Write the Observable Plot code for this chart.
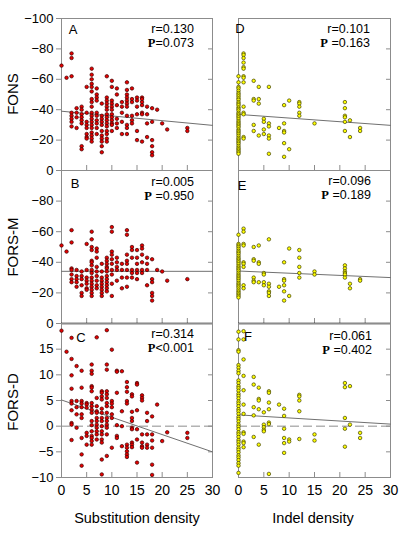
<!DOCTYPE html>
<html><head><meta charset="utf-8">
<script src="https://cdn.jsdelivr.net/npm/d3@7"></script>
<script src="https://cdn.jsdelivr.net/npm/@observablehq/plot@0.6"></script>
<style>
body{margin:0;background:#fff;}
#chart{position:relative;width:411px;height:535px;font-family:"Liberation Sans",Arial,sans-serif;color:#000;overflow:hidden;}
.panel{position:absolute;}
.ylab{position:absolute;font-size:15px;transform:translate(-50%,-50%) rotate(-90deg);white-space:nowrap;}
.xlab{position:absolute;font-size:14.5px;transform:translate(-50%,-50%);white-space:nowrap;}
</style></head><body><div id="chart"></div>
<script>
// ---------- data ----------
const rowLabels = ["FONS", "FORS-M", "FORS-D"];
const colLabels = ["Substitution density", "Indel density"];
const panelLetters = ["A", "B", "C", "D", "E", "F"];
const statR = ["0.130", "0.005", "0.314", "0.101", "0.096", "0.061"];
const statPop = ["=", " =", "<", " =", " =", " ="];
const statP = ["0.073", "0.950", "0.001", "0.163", "0.189", "0.402"];
const fitIntercept = [-39, -34.1, 5.1, -36.9, -34.3, 2.2];
const fitSlope = [0.31, 0.0, -0.337, 0.24, 0.143, -0.06];
const xTicks = [0, 5, 10, 15, 20, 25, 30];
const fonsTicks = [-100, -80, -60, -40, -20, 0];
const forsMTicks = [-80, -60, -40, -20, 0];
const forsDTicks = [-10, -5, 0, 5, 10, 15];

const subX = [0,1,2,3,4,5,6,7,8,9,10,11,12,13,14,15,16,17,18,19,20,21,25];
const fonsSub = [
  [-69],[-61],[-77,-74,-62,-38,-36,-34,-32,-29],[-41,-38,-35,-28],
  [-42,-40,-37,-35,-33,-31,-16,-14],[-55,-38,-32,-30,-28,-24,-22,-21],
  [-67,-63,-60,-57,-55,-52,-47,-45,-42,-38,-36,-34,-32,-30,-28,-25,-23,-21,-19],
  [-54,-50,-48,-46,-38,-36,-33,-31,-28,-24],
  [-44,-36,-34,-32,-30,-26,-23,-21,-19,-16,-12],
  [-62,-48,-46,-44,-42,-40,-37,-35,-33,-31,-29,-26,-24,-21,-19],
  [-59,-55,-46,-44,-42,-40,-37,-35,-33,-31,-30,-26],
  [-54,-50,-43,-34,-31,-28],[-45,-42,-38,-32,-24],
  [-58,-53,-50,-48,-46,-44,-42,-36,-30,-28,-24],
  [-54,-47,-45,-36,-33,-31],[-48,-46,-42,-37,-26,-20],
  [-48,-47,-45,-43,-38,-37,-19],[-42,-37,-31,-22],
  [-41,-32,-20,-16,-12,-10],[-40],[-31],[-27],[-28,-26]
];
const forsMSub = [
  [-51],[-47],[-61,-53,-36,-35,-32,-29,-27],[-35,-31,-29,-27,-24],
  [-34,-31,-29,-25,-20,-18],[-52,-35,-30,-28,-26,-23,-22],
  [-60,-55,-50,-48,-41,-40,-38,-35,-33,-30,-28,-26,-24,-22,-20,-18],
  [-49,-47,-43,-37,-34,-31,-28,-25,-23],
  [-39,-34,-30,-28,-26,-24,-22,-20,-18],
  [-43,-41,-39,-37,-36,-34,-31,-29,-27,-25,-23,-21],
  [-63,-60,-47,-45,-42,-39,-35,-32,-26,-18],
  [-43,-40,-37,-35,-28],[-39,-35,-30,-23],
  [-61,-58,-45,-41,-39,-35,-30,-24],
  [-50,-48,-43,-35,-33,-30],[-48,-43,-39,-35,-33,-29],
  [-51,-49,-45,-40,-35,-33],[-43,-39,-35,-25],
  [-42,-29,-27,-20,-18,-15],[-35],[-34],[-28],[-29]
];
const forsDSub = [
  [18.6],[14.5],[17.2,13.1,9.9,7.3,4.9,4.4,3.1,0.6,0.3,-2.7],[11.7,4.9,3.7,2.3,-0.3],
  [10.8,7.5,4.9,4.4,3.7,2.3,1.6,-2.3,-5.5,-7.7],[4.5,4.2,3.6,-1.3,-1.9,-3.6],
  [12,10.8,10.2,7.8,7.5,6.8,4.5,3.9,3.2,2.6,1,0.2,-1,-1.9,-2.3,-2.9,-3.6],
  [17.3,5.5,3.9,2.9,2.6,1.6,1,0.3,-0.3,-1,-1.6,-2.6],
  [6.8,6.5,5.8,5.2,3.4,2.6,1.6,1,0,-1,-1.6,-2.6,-3.2,-6.5,-9.4],
  [18.7,12,11,6.8,6.2,5.5,4.5,3.9,2.6,1.6,1,0.3,-0.3,-1.6,-5.8],
  [14.9,4.9,4.4,3.7,2.3,1.6,-4.2],[10.8,10.6,6.5,0.2,-1.9,-2.3],[10.7,2.9,0,-3.9],
  [8.6,7.6,6.7,4.9,4.4,-3.6,-4.2,-4.9,-5.5,-6],
  [6.2,5.8,2.8,1.6,1,-0.3,-0.6,-3.2,-3.6,-4.1],[8.4,8.1,3.1,-0.6,-2.6,-7.1],
  [6,5.5,5,-1.6,-3.2,-3.9,-4.2],[2.6,1,-1.6,-3.6,-4.2],
  [1.9,-1.6,-2.8,-4.2,-7.5,-9.5],[4.2],[-2.9],[-1.2],[-1.3,-2.3]
];

const indelX = [0,1,3,4,5,6,8,9,10,12,15,21,22,24];
const fonsIndel = [
  [-62,-58,-55,-54,-52.5,-51,-50,-48.8,-47.5,-46.5,-45,-44,-43,-41.5,-40.5,-39.5,-38,-37,-36,-35,-33.8,-32.5,-31.5,-30.5,-29.5,-28.5,-27,-26,-25,-24,-22.8,-21.5,-20.5,-19.5,-18.5,-17.5,-16.2,-15,-14,-13,-12,-11],
  [-77,-76,-74,-71,-68,-67,-62,-61,-58,-42,-38,-37,-22,-21],
  [-59,-47,-46,-30,-26],[-55,-47,-44,-23],[-34,-32,-27,-24],
  [-55,-31,-29,-23,-21,-11],[-28],[-43,-31,-26,-25,-18,-9],[-46,-14],
  [-45,-44,-42,-38,-36],[-31],[-45,-41,-36,-35,-32,-26],[-33,-22],[-28,-26]
];
const forsMIndel = [
  [-58,-52,-51,-50,-48.8,-47.5,-46.5,-45.5,-44.2,-43,-42,-41,-40,-38.8,-37.5,-36.5,-35.5,-34.5,-33.2,-32,-31,-30,-29,-27.8,-26.5,-25.5,-24.5,-23.5,-22.2,-21,-20,-19,-18,-17],
  [-62,-60,-52,-51,-40,-39,-37,-25,-23],
  [-50,-42,-41,-30,-28,-27],[-51,-40,-39,-27],[-33,-32,-27,-25],
  [-55,-26,-24,-21,-20,-18],[-24],[-40,-29,-28,-25,-21,-15],[-49,-18],
  [-48,-43,-37,-33,-30],[-34,-32],[-38,-36,-34,-33,-32,-30],[-26,-23],[-29,-28]
];
const forsDIndel = [
  [18.4,16.9,14.8,14.5,11.9,11.4,10.8,10.3,8.9,8.4,7.8,7.4,6.9,6.3,5.9,5.4,4.8,4.4,3.9,3.3,2.9,2.4,1.8,1.4,0.9,0.3,-0.1,-0.6,-1.2,-1.6,-2.1,-2.7,-3.1,-3.6,-4.2,-4.6,-5.1,-5.7,-6.1,-6.6,-7.2,-7.7,-9.1],
  [18.5,16.9,13,9.8,7,4.2,2.4,-1.2,-1.5,-3,-3.3,-4.1],
  [9.6,8.1,3.7,2.1,-2.1],[7.5,5.3,5,3.3,-3.6],[2.7,0.3,-0.2,-0.7,-1],
  [6.8,6.5,4.6,3.3,0.7,0.4,-9.3],[4.2],[3.4,2,-0.5,-2.3,-3.3,-5.2],[-2.6,-3],
  [6.1,5.8,5,2.9,-2.5],[-1.6,-2.8],[8.4,7.6,1.6,-0.5,-4],[7.8,0.3],[-1.3,-2.3]
];

// ---------- build ----------
const flat = (xs, cols) => xs.flatMap((x, i) => cols[i].map(y => ({x, y})));
const frameColor = "#8c8c8c";
const chart = document.getElementById("chart");

const panels = [
  {data: flat(subX, fonsSub), ydom: [0, -100], yt: fonsTicks, ylabT: fonsTicks, col: 0, row: 0},
  {data: flat(subX, forsMSub), ydom: [0, -100], yt: forsMTicks, ylabT: forsMTicks, col: 0, row: 1},
  {data: flat(subX, forsDSub), ydom: [-10, 20], yt: forsDTicks, ylabT: forsDTicks, col: 0, row: 2},
  {data: flat(indelX, fonsIndel), ydom: [0, -100], yt: fonsTicks, col: 1, row: 0},
  {data: flat(indelX, forsMIndel), ydom: [0, -100], yt: forsMTicks, col: 1, row: 1},
  {data: flat(indelX, forsDIndel), ydom: [-10, 20], yt: forsDTicks, col: 1, row: 2}
];
// layout geometry
const colGeo = [{left: 0, width: 230, ml: 61, mr: 18}, {left: 220, width: 191, ml: 18, mr: 21}];
const rowGeo = [{top: 0, height: 170, mt: 18, mb: 0}, {top: 170, height: 153, mt: 0, mb: 0}, {top: 323, height: 212, mt: 0, mb: 58}];
const letterPos = [[12, 16], [14, 18], [20, 19], [2, 15], [4, 20], [10, 18]];
const statPos = [[18, 15, 29], [18, 16, 30], [18, 15, 29], [20, 15, 29], [19, 15, 29], [18, 17, 31]];

panels.forEach((p, i) => {
  const cg = colGeo[p.col], rg = rowGeo[p.row];
  const fill = p.col === 0 ? "#e60000" : "#ffff00";
  const stroke = p.col === 0 ? "#3b0000" : "#3d3d00";
  const fit = [0, 30].map(x => ({x, y: fitIntercept[i] + fitSlope[i] * x}));
  const marks = [
    Plot.frame({stroke: frameColor}),
    Plot.axisX({ticks: xTicks, tickSize: -5, tickFormat: () => "", label: null, stroke: frameColor}),
    Plot.axisY({anchor: "right", ticks: p.yt, tickSize: -5, tickFormat: () => "", label: null, stroke: frameColor})
  ];
  if (p.row === 2) marks.push(Plot.ruleY([0], {stroke: frameColor, strokeDasharray: "9,4"}));
  if (p.row === 1) marks.push(Plot.ruleY([0], {stroke: "#000", strokeWidth: 1.4}));
  if (p.col === 0) {
    marks.push(Plot.axisY({anchor: "left", ticks: p.yt, tickSize: 5, tickFormat: () => "", label: null, stroke: frameColor}));
    marks.push(Plot.axisY({anchor: "left", ticks: p.ylabT, tickSize: 0, tickPadding: 8, label: null, fill: "#000", fontSize: 13}));
  }
  if (p.row === 2) marks.push(Plot.axisX({ticks: xTicks, tickSize: 0, tickPadding: 8, label: null, fill: "#000", fontSize: 14}));
  marks.push(Plot.line(fit, {x: "x", y: "y", stroke: "#707070", strokeWidth: 1}));
  marks.push(Plot.dot(p.data, {x: "x", y: "y", r: 1.75, fill, stroke, strokeWidth: 0.7}));

  const svg = Plot.plot({
    width: cg.width, height: rg.height,
    marginLeft: cg.ml, marginRight: cg.mr, marginTop: rg.mt, marginBottom: rg.mb,
    x: {domain: [0, 30]}, y: {domain: p.ydom},
    style: {background: "transparent", overflow: "visible", fontFamily: "'Liberation Sans', Arial, sans-serif", fontSize: "13px", color: "#000"},
    marks
  });
  const div = document.createElement("div");
  div.className = "panel";
  div.style.left = cg.left + "px";
  div.style.top = rg.top + "px";
  div.appendChild(svg);
  chart.appendChild(div);

  // annotations: panel letter and statistics
  const s = d3.select(svg);
  const x0 = cg.ml, x1 = cg.width - cg.mr, y0 = rg.mt;
  const [lx, ly] = letterPos[i];
  s.append("text").attr("x", x0 + lx).attr("y", y0 + ly).attr("font-size", 13)
    .attr("font-family", "'Liberation Sans', Arial, sans-serif").attr("fill", "#000").text(panelLetters[i]);
  const [rx, ry, py] = statPos[i];
  s.append("text").attr("x", x1 - rx).attr("y", y0 + ry).attr("text-anchor", "end").attr("font-size", 12.5)
    .attr("font-family", "'Liberation Sans', Arial, sans-serif").attr("fill", "#000").text("r=" + statR[i]);
  const t = s.append("text").attr("x", x1 - rx).attr("y", y0 + py).attr("text-anchor", "end").attr("font-size", 12.5)
    .attr("fill", "#000").attr("xml:space", "preserve");
  t.append("tspan").attr("font-family", "'Liberation Serif', 'Times New Roman', serif").attr("font-weight", "bold").text("P");
  t.append("tspan").attr("font-family", "'Liberation Sans', Arial, sans-serif").text(statPop[i] + statP[i]);
});

// axis titles
const rowCenters = [94, 247, 402];
rowLabels.forEach((lab, i) => {
  const d = document.createElement("div");
  d.className = "ylab"; d.textContent = lab;
  d.style.left = "12px"; d.style.top = rowCenters[i] + "px";
  chart.appendChild(d);
});
const colCenters = [137, 313];
colLabels.forEach((lab, i) => {
  const d = document.createElement("div");
  d.className = "xlab"; d.textContent = lab;
  d.style.left = colCenters[i] + "px"; d.style.top = "518px";
  chart.appendChild(d);
});
</script></body></html>
